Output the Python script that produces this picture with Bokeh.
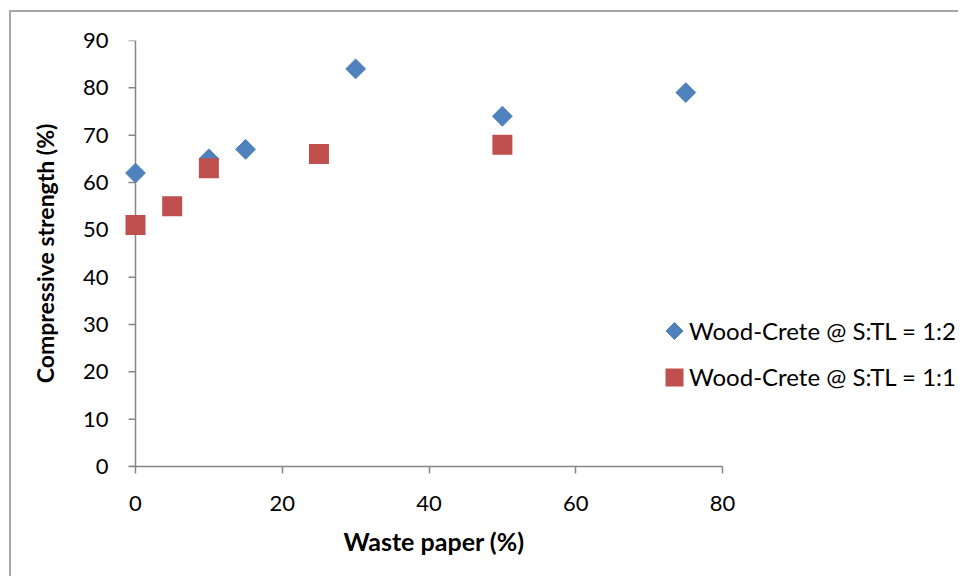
import math
from bokeh.plotting import figure
from bokeh.models import Legend, LegendItem, FixedTicker, Range1d, Span, Title
from bokeh.embed import file_html
from bokeh.resources import INLINE

# data
x_12 = [0, 10, 15, 30, 50, 75]
y_12 = [62, 65, 67, 84, 74, 79]
x_11 = [0, 5, 10, 25, 50]
y_11 = [51, 55, 63, 66, 68]
label_12 = "Wood-Crete @ S:TL = 1:2"
label_11 = "Wood-Crete @ S:TL = 1:1"
x_title = "Waste paper (%)"
y_title = "Compressive strength (%)"
x_ticks = [0, 20, 40, 60, 80]
y_ticks = [0, 10, 20, 30, 40, 50, 60, 70, 80, 90]
x_axis_max = 80
y_axis_max = 90

FONT = "Lato"
BLUE = "#4F81BD"
RED = "#C0504D"
AX = "#868686"

# geometry (pixels)
PX_PER_UNIT = 587 / x_axis_max      # x axis 0..80 spans 587 px
LEFT_PAD_PX = 11                    # room so markers at x=0 are not clipped
FRAME_LEFT = 124                    # page x of the frame's left edge
FRAME_TOP = 40
FRAME_W = 834                       # frame runs to the right edge (legend inside)
FRAME_H = 426
FRAME_BOTTOM = FRAME_TOP + FRAME_H
AXIS_X0 = FRAME_LEFT + LEFT_PAD_PX  # page x of the y axis line (x = 0)
PY_PER_UNIT = FRAME_H / y_axis_max
TICK_PX = 7
x_start = -LEFT_PAD_PX / PX_PER_UNIT
x_end = x_start + FRAME_W / PX_PER_UNIT
tick_units = TICK_PX / PX_PER_UNIT

# legend geometry (pixels)
LEG_GLYPH_X = 674
LEG_ROW1_Y = 330.5
LEG_ROW2_Y = 376.5
G = 30

p = figure(output_backend="svg", toolbar_location=None,
           frame_width=FRAME_W, frame_height=FRAME_H,
           min_border_left=FRAME_LEFT - 11, min_border_top=FRAME_TOP - 12,
           min_border_right=0, min_border_bottom=110,
           x_range=Range1d(x_start, x_end), y_range=Range1d(0, y_axis_max))
p.styles = {"margin-left": "9px", "margin-top": "10px",
            "border-left": "2px solid #a6a6a6", "border-top": "2px solid #a6a6a6",
            "border-right": "none", "border-bottom": "none"}
p.outline_line_color = None
p.grid.visible = False
p.background_fill_color = "white"
p.border_fill_color = "white"

# y axis line at x = 0 and its outward ticks
p.add_layout(Span(location=0, dimension="height", line_color=AX,
                  line_width=1.5, level="underlay"))
p.segment(x0=[-tick_units] * len(y_ticks), y0=y_ticks,
          x1=[0] * len(y_ticks), y1=y_ticks, line_color=AX, line_width=1.5)

r12 = p.scatter(x_12, y_12, marker="square", size=14, angle=math.pi / 4,
                fill_color=BLUE, line_color=BLUE, line_width=1, line_join="miter")
r11 = p.scatter(x_11, y_11, marker="square", size=14,
                fill_color=RED, line_color=RED, line_width=6, line_join="miter")

xa = p.xaxis[0]
ya = p.yaxis[0]
for ax in (xa, ya):
    ax.axis_line_color = AX
    ax.axis_line_width = 1.5
    ax.major_tick_line_color = AX
    ax.major_tick_line_width = 1.5
    ax.major_tick_in = 0
    ax.major_tick_out = TICK_PX
    ax.minor_tick_line_color = None
    ax.major_label_text_font = FONT
    ax.major_label_text_font_size = "22px"
    ax.major_label_text_color = "black"
    ax.axis_label_text_font = FONT
    ax.axis_label_text_font_style = "bold"
    ax.axis_label_text_color = "black"

xa.bounds = (-tick_units, x_axis_max)
xa.ticker = FixedTicker(ticks=x_ticks)
xa.major_label_standoff = 22

ya.ticker = FixedTicker(ticks=y_ticks)
ya.axis_line_color = None
ya.major_tick_line_color = None
ya.major_tick_out = 0
ya.major_label_standoff = 16
ya.axis_label = y_title
ya.axis_label_text_font_size = "23px"
ya.axis_label_standoff = 21

p.add_layout(Title(text=x_title, align="left", offset=343 - FRAME_LEFT,
                   text_font=FONT, text_font_style="bold", text_font_size="25px",
                   text_color="black", standoff=20), "below")

# legend: the diamond sample is drawn as a rotated square (Bokeh legends do not rotate markers)
proxy12 = p.scatter(x=[], y=[], marker="square", fill_alpha=0, line_alpha=0)
p.scatter(x=[(LEG_GLYPH_X - AXIS_X0) / PX_PER_UNIT],
          y=[(FRAME_BOTTOM - LEG_ROW1_Y) / PY_PER_UNIT],
          marker="square", size=12, angle=math.pi / 4,
          fill_color=BLUE, line_color=BLUE, line_width=1, line_join="miter")

legend = Legend(items=[LegendItem(label=label_12, renderers=[proxy12]),
                       LegendItem(label=label_11, renderers=[r11])],
                location=(LEG_GLYPH_X - G / 2 - FRAME_LEFT, FRAME_BOTTOM - (LEG_ROW2_Y + G / 2)),
                padding=0, margin=0, border_line_color=None, background_fill_alpha=0,
                glyph_width=G, glyph_height=G, label_height=G,
                label_standoff=0, spacing=16,
                label_text_font=FONT, label_text_font_size="24px",
                label_text_color="black")
p.add_layout(legend, "center")

open("out.html", "w").write(file_html(p, INLINE))
